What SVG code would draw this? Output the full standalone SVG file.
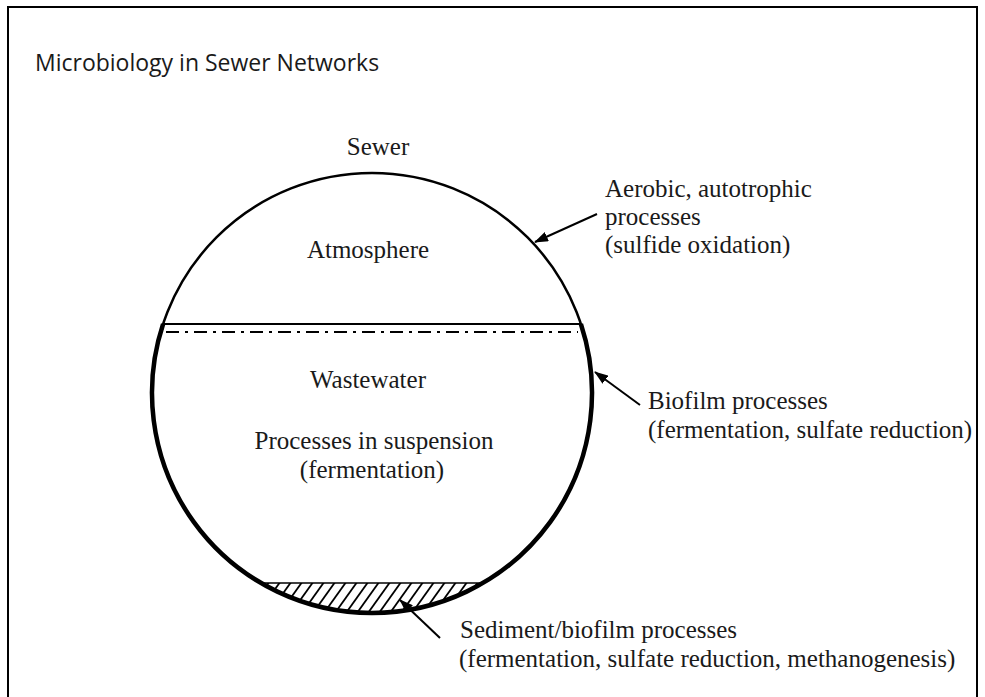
<svg xmlns="http://www.w3.org/2000/svg" width="985" height="697" viewBox="0 0 985 697">
<style>
.lbl{font-family:"Liberation Serif",serif;font-size:25px;fill:#1a1a1a}
.ttl{font-family:"Open Sans",sans-serif;font-size:23px;fill:#1a1a1a}
.conn{stroke:#000;stroke-width:2;fill:none;marker-end:url(#ah)}
.hatch{stroke:#000;stroke-width:1.8}
</style>
<defs>
<marker id="ah" markerUnits="userSpaceOnUse" markerWidth="14" markerHeight="10" refX="13" refY="5" orient="auto">
<path d="M0,0 L14,5 L0,10 z" fill="#000"/>
</marker>
<clipPath id="sedclip"><path d="M261.1 583 L482.9 583 A220 220 0 0 1 261.1 583 Z"/></clipPath>
</defs>
<rect width="985" height="697" fill="#fff"/>
<rect x="8" y="7" width="969" height="700" fill="none" stroke="#000" stroke-width="2"/>
<text class="ttl" x="35" y="71">Microbiology in Sewer Networks</text>

<g id="sewer">
<circle cx="372" cy="393" r="220" fill="none" stroke="#000" stroke-width="2.5"/>
<path d="M163.1 324 A220 220 0 1 0 580.9 324" fill="none" stroke="#000" stroke-width="4.5"/>
<text class="lbl" x="378" y="155" text-anchor="middle">Sewer</text>
</g>

<g id="atmosphere">
<text class="lbl" x="368" y="258" text-anchor="middle">Atmosphere</text>
</g>

<g id="waterline">
<line x1="164" y1="324" x2="580" y2="324" stroke="#000" stroke-width="2"/>
<line x1="166" y1="332" x2="578" y2="332" stroke="#000" stroke-width="2" stroke-dasharray="13 6 3 6"/>
</g>

<g id="wastewater">
<text class="lbl" x="368" y="388" text-anchor="middle">Wastewater</text>
<text class="lbl" x="374" y="449" text-anchor="middle">Processes in suspension</text>
<text class="lbl" x="372" y="478" text-anchor="middle">(fermentation)</text>
</g>

<g id="sediment">
<g clip-path="url(#sedclip)">
<g class="hatch">
<line x1="220" y1="620" x2="250" y2="578"/>
<line x1="231" y1="620" x2="261" y2="578"/>
<line x1="242" y1="620" x2="272" y2="578"/>
<line x1="253" y1="620" x2="283" y2="578"/>
<line x1="264" y1="620" x2="294" y2="578"/>
<line x1="275" y1="620" x2="305" y2="578"/>
<line x1="286" y1="620" x2="316" y2="578"/>
<line x1="297" y1="620" x2="327" y2="578"/>
<line x1="308" y1="620" x2="338" y2="578"/>
<line x1="319" y1="620" x2="349" y2="578"/>
<line x1="330" y1="620" x2="360" y2="578"/>
<line x1="341" y1="620" x2="371" y2="578"/>
<line x1="352" y1="620" x2="382" y2="578"/>
<line x1="363" y1="620" x2="393" y2="578"/>
<line x1="374" y1="620" x2="404" y2="578"/>
<line x1="385" y1="620" x2="415" y2="578"/>
<line x1="396" y1="620" x2="426" y2="578"/>
<line x1="407" y1="620" x2="437" y2="578"/>
<line x1="418" y1="620" x2="448" y2="578"/>
<line x1="429" y1="620" x2="459" y2="578"/>
<line x1="440" y1="620" x2="470" y2="578"/>
<line x1="451" y1="620" x2="481" y2="578"/>
<line x1="462" y1="620" x2="492" y2="578"/>
<line x1="473" y1="620" x2="503" y2="578"/>
</g>
</g>
<line x1="261.1" y1="583" x2="482.9" y2="583" stroke="#000" stroke-width="1.5"/>
</g>

<g id="aerobic">
<text class="lbl" x="605" y="197">Aerobic, autotrophic</text>
<text class="lbl" x="605" y="225">processes</text>
<text class="lbl" x="605" y="253">(sulfide oxidation)</text>
</g>

<g id="biofilm">
<text class="lbl" x="648" y="409">Biofilm processes</text>
<text class="lbl" x="648" y="438">(fermentation, sulfate reduction)</text>
</g>

<g id="sediment-label">
<text class="lbl" x="460" y="638">Sediment/biofilm processes</text>
<text class="lbl" x="459" y="667">(fermentation, sulfate reduction, methanogenesis)</text>
</g>

<g id="connectors">
<line class="conn" x1="597" y1="214" x2="535" y2="242"/>
<line class="conn" x1="640" y1="405" x2="595" y2="372"/>
<line class="conn" x1="440" y1="638" x2="400" y2="600"/>
</g>
</svg>
